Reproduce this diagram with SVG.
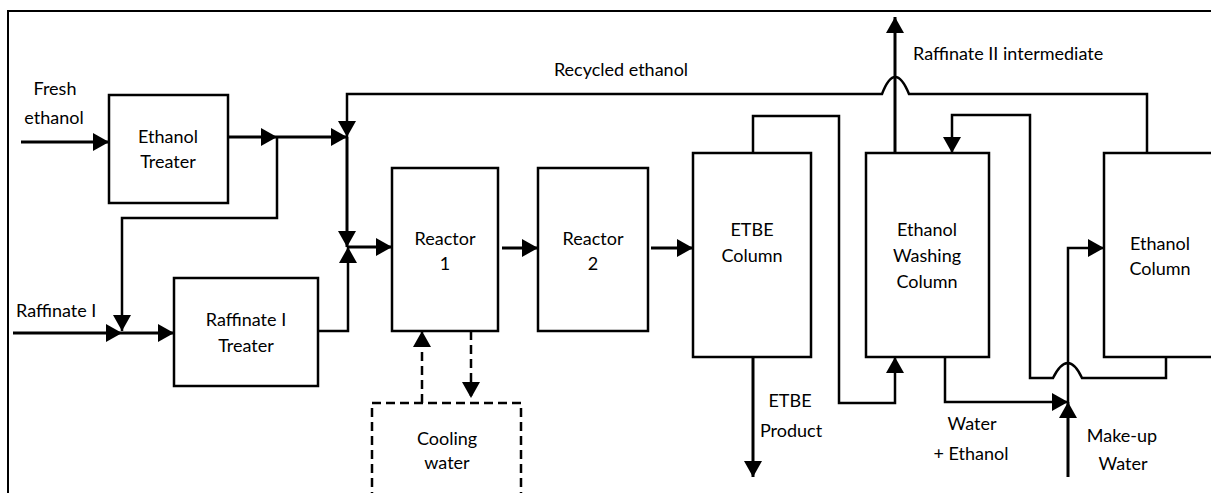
<svg xmlns="http://www.w3.org/2000/svg" width="1211" height="493" viewBox="0 0 1211 493">
  <style>
    .box { fill: #fff; stroke: #000; stroke-width: 2.5; }
    .dash { fill: none; stroke: #000; stroke-width: 2.5; stroke-dasharray: 9 5; }
    .flow { fill: none; stroke: #000; stroke-width: 3; }
    .pipe { fill: none; stroke: #000; stroke-width: 2.5; }
    .frame { fill: none; stroke: #000; stroke-width: 2; }
    text { font-family: Lato, "Open Sans", "Liberation Sans", sans-serif; font-size: 18px; fill: #000; }
    .c { text-anchor: middle; }
  </style>
  <defs>
    <marker id="arrow" markerUnits="userSpaceOnUse" markerWidth="16" markerHeight="18" viewBox="0 0 16 18" refX="16" refY="9" orient="auto">
      <path d="M0,0 L16,9 L0,18 z" fill="#000"/>
    </marker>
  </defs>

  <!-- outer frame -->
  <path class="frame" d="M8,493 V11 H1211"/>

  <!-- process units -->
  <g id="ethanol-treater">
    <rect class="box" x="109" y="95" width="119" height="108"/>
    <text class="c" x="168" y="143">Ethanol</text>
    <text class="c" x="168" y="168">Treater</text>
  </g>
  <g id="raffinate-treater">
    <rect class="box" x="174" y="278" width="144" height="108"/>
    <text class="c" x="246" y="326">Raffinate I</text>
    <text class="c" x="246" y="352">Treater</text>
  </g>
  <g id="reactor-1">
    <rect class="box" x="392" y="168" width="106" height="163"/>
    <text class="c" x="445" y="245">Reactor</text>
    <text class="c" x="445" y="270">1</text>
  </g>
  <g id="reactor-2">
    <rect class="box" x="538" y="168" width="110" height="163"/>
    <text class="c" x="593" y="245">Reactor</text>
    <text class="c" x="593" y="270">2</text>
  </g>
  <g id="etbe-column">
    <rect class="box" x="693" y="153" width="118" height="204"/>
    <text class="c" x="752" y="236">ETBE</text>
    <text class="c" x="752" y="262">Column</text>
  </g>
  <g id="washing-column">
    <rect class="box" x="866" y="153" width="123" height="204"/>
    <text class="c" x="927" y="236">Ethanol</text>
    <text class="c" x="927" y="262">Washing</text>
    <text class="c" x="927" y="288">Column</text>
  </g>
  <g id="ethanol-column">
    <rect class="box" x="1104" y="153" width="120" height="204"/>
    <text class="c" x="1160" y="250">Ethanol</text>
    <text class="c" x="1160" y="275">Column</text>
  </g>
  <g id="cooling-water">
    <rect class="dash" x="372" y="403" width="149" height="110" fill="none"/>
    <text class="c" x="447" y="445">Cooling</text>
    <text class="c" x="447" y="469">water</text>
  </g>

  <!-- stream labels -->
  <g id="labels">
    <text class="c" x="55" y="95">Fresh</text>
    <text class="c" x="54" y="124">ethanol</text>
    <text x="16" y="317">Raffinate I</text>
    <text class="c" x="621" y="76">Recycled ethanol</text>
    <text x="913" y="60">Raffinate II intermediate</text>
    <text class="c" x="790" y="407">ETBE</text>
    <text class="c" x="791" y="437">Product</text>
    <text class="c" x="972" y="430">Water</text>
    <text class="c" x="971" y="460">+ Ethanol</text>
    <text class="c" x="1122" y="442">Make-up</text>
    <text class="c" x="1123" y="470">Water</text>
  </g>

  <!-- streams -->
  <g id="connectors">
    <!-- feeds -->
    <path class="flow" d="M21,142 H109" marker-end="url(#arrow)"/>
    <path class="flow" d="M228,137 H277" marker-end="url(#arrow)"/>
    <path class="flow" d="M277,137 H347" marker-end="url(#arrow)"/>
    <path class="pipe" d="M277,137 V218 H122 V331" marker-end="url(#arrow)"/>
    <path class="flow" d="M13,333 H122" marker-end="url(#arrow)"/>
    <path class="flow" d="M122,333 H174" marker-end="url(#arrow)"/>
    <path class="pipe" d="M318,331 H348 V247" marker-end="url(#arrow)"/>

    <!-- ethanol recycle, hopping over the raffinate II line -->
    <path class="pipe" d="M1147,153 V94 H909 Q895,60 882,94 H347 V137" marker-end="url(#arrow)"/>
    <path class="flow" d="M347,137 V247" marker-end="url(#arrow)"/>
    <path class="flow" d="M347,247 H392" marker-end="url(#arrow)"/>

    <!-- reactor train -->
    <path class="flow" d="M502,248 H538" marker-end="url(#arrow)"/>
    <path class="flow" d="M651,248 H693" marker-end="url(#arrow)"/>

    <!-- cooling loop -->
    <path class="dash" d="M422,403 V331" marker-end="url(#arrow)"/>
    <path class="dash" d="M471,331 V398" marker-end="url(#arrow)"/>

    <!-- ETBE column outlets -->
    <path class="pipe" d="M753,153 V116 H839 V403 H895 V357" marker-end="url(#arrow)"/>
    <path class="flow" d="M753,357 V477" marker-end="url(#arrow)"/>

    <!-- washing column -->
    <path class="flow" d="M895,153 V17" marker-end="url(#arrow)"/>
    <path class="pipe" d="M945,357 V402 H1068" marker-end="url(#arrow)"/>
    <path class="flow" d="M1068,477 V402" marker-end="url(#arrow)"/>
    <path class="pipe" d="M1068,402 V248 H1104" marker-end="url(#arrow)"/>

    <!-- ethanol column bottoms back to washing column top -->
    <path class="pipe" d="M1166,357 V378 H1082 Q1068,348 1053,378 H1030 V115 H952 V153" marker-end="url(#arrow)"/>
  </g>
</svg>
